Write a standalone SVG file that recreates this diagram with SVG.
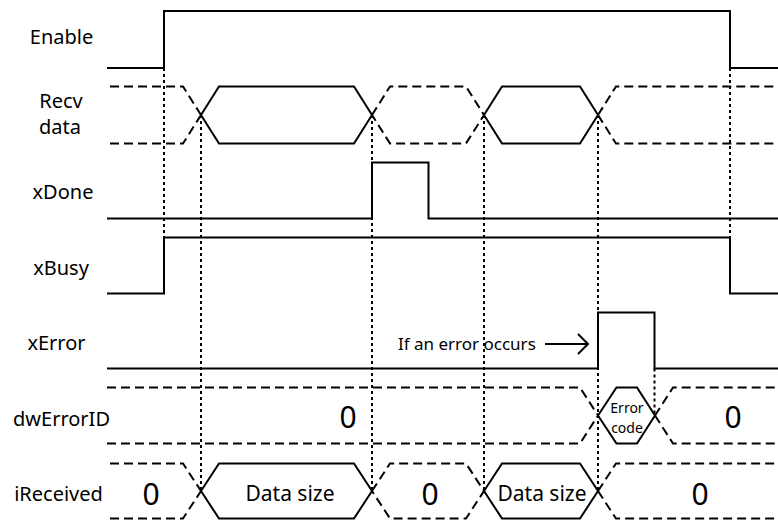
<svg xmlns="http://www.w3.org/2000/svg" width="778" height="521" viewBox="0 0 778 521">
<style>
.s{fill:none;stroke:#000;stroke-width:2;stroke-linejoin:miter}
.d{fill:none;stroke:#000;stroke-width:2;stroke-dasharray:9 5}
.v{fill:none;stroke:#000;stroke-width:2;stroke-dasharray:3 3}
.lb{font-family:"Noto Sans","DejaVu Sans",sans-serif;font-size:20px;text-anchor:middle;fill:#000}
.z{font-family:"Noto Sans","DejaVu Sans",sans-serif;font-size:30px;text-anchor:middle;fill:#000}
.ds{font-family:"Noto Sans","DejaVu Sans",sans-serif;font-size:21px;text-anchor:middle;fill:#000}
.sm{font-family:"Noto Sans","DejaVu Sans",sans-serif;font-size:14px;text-anchor:middle;fill:#000}
</style>
<rect width="778" height="521" fill="#fff"/>
<g id="enable">
<text class="lb" x="61.5" y="44">Enable</text>
<path class="s" d="M107,68 H164 V11 H730 V68 H778"/>
</g>
<g id="recv-data">
<text class="lb" x="61" y="108">Recv</text>
<text class="lb" x="60" y="134">data</text>
<path class="d" d="M110,86.5 H183 L201,115 M110,143.5 H183 L201,115"/>
<path class="s" d="M201,115 L219,86.5 H354 L372,115 L354,143.5 H219 Z"/>
<path class="d" d="M372,115 L390,86.5 H466 L484,115 L466,143.5 H390 Z"/>
<path class="s" d="M484,115 L502,86.5 H580 L598,115 L580,143.5 H502 Z"/>
<path class="d" d="M598,115 L616,86.5 H778 M598,115 L616,143.5 H778"/>
</g>
<g id="xdone">
<text class="lb" x="63" y="198.5">xDone</text>
<path class="s" d="M107,218.5 H372 V162.5 H428.5 V218.5 H778"/>
</g>
<g id="xbusy">
<text class="lb" x="61" y="274.5">xBusy</text>
<path class="s" d="M107,293.5 H164 V237.5 H730 V293.5 H778"/>
</g>
<g id="xerror">
<text class="lb" x="56.5" y="350">xError</text>
<path class="s" d="M107,368.5 H598 V312.5 H654.5 V368.5 H778"/>
</g>
<g id="dwerrorid">
<text class="lb" x="61.5" y="426">dwErrorID</text>
<path class="d" d="M107,387.5 H580 L598,415.5 M107,443.5 H580 L598,415.5"/>
<path class="s" d="M598,415.5 L616.5,387.5 H637 L655,415.5 L637,443.5 H616.5 Z"/>
<path class="d" d="M655,415.5 L673,387.5 H778 M655,415.5 L673,443.5 H778"/>
<text class="z" x="348" y="428">0</text>
<text class="sm" x="627" y="413">Error</text>
<text class="sm" x="627" y="433">code</text>
<text class="z" x="733" y="428">0</text>
</g>
<g id="ireceived">
<text class="lb" x="58.5" y="500.5">iReceived</text>
<path class="d" d="M110,463.5 H183 L201,491 M110,518.5 H183 L201,491"/>
<path class="s" d="M201,491 L219,463.5 H354 L372,491 L354,518.5 H219 Z"/>
<path class="d" d="M372,491 L390,463.5 H466 L484,491 L466,518.5 H390 Z"/>
<path class="s" d="M484,491 L502,463.5 H580 L598,491 L580,518.5 H502 Z"/>
<path class="d" d="M598,491 L616,463.5 H778 M598,491 L616,518.5 H778"/>
<text class="z" x="151" y="505">0</text>
<text class="ds" x="290" y="500.5">Data size</text>
<text class="z" x="430" y="505">0</text>
<text class="ds" x="542" y="500.5">Data size</text>
<text class="z" x="700" y="505">0</text>
</g>
<g id="connectors">
<path class="v" d="M164,68 V237.5 M201,115 V491 M372,115 V491 M484,115 V491 M598,115 V491 M654.5,368.5 V415.5 M730,68 V237.5"/>
<text x="398" y="350" style="font-family:'Noto Sans','DejaVu Sans',sans-serif;font-size:17px;fill:#000">If an error occurs</text>
<path class="s" d="M545,344 H588 M578,334 L588,344 L578,354"/>
</g>
</svg>
